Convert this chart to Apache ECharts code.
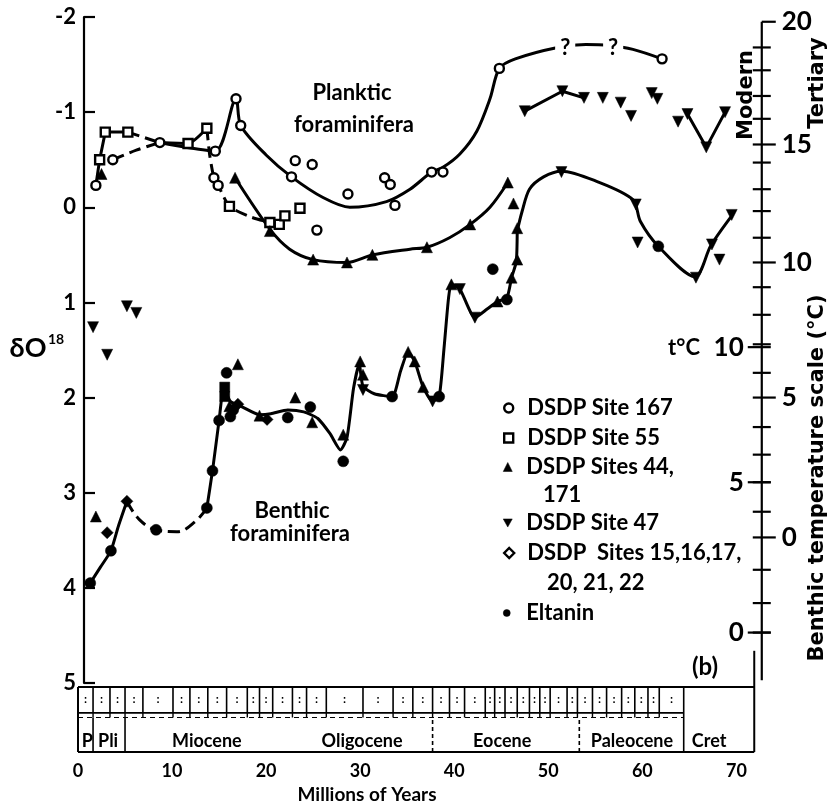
<!DOCTYPE html>
<html><head><meta charset="utf-8">
<script src="https://cdn.jsdelivr.net/npm/echarts@6/dist/echarts.min.js"></script>
<style>html,body{margin:0;padding:0;background:#fff}#c{width:829px;height:805px}</style>
</head><body><div id="c"></div>
<script>
// ---------------- DATA ----------------
const ageTicks = [0, 10, 20, 30, 40, 50, 60, 70];
const deltaTicks = [-2, -1, 0, 1, 2, 3, 4, 5];

// Planktic foraminifera points [age (My), delta O18]
const planktic167 = [[1.9,-0.23],[3.7,-0.5],[8.7,-0.68],[14.6,-0.59],[14.45,-0.31],[14.9,-0.23],[16.8,-1.14],[17.3,-0.86],[22.7,-0.32],[23.1,-0.49],[24.9,-0.45],[25.4,0.24],[28.7,-0.14],[32.6,-0.31],[33.2,-0.24],[33.7,-0.02],[37.6,-0.37],[38.8,-0.37],[44.8,-1.46],[62.1,-1.56]];
const planktic55 = [[2.3,-0.5],[2.9,-0.79],[5.3,-0.79],[11.7,-0.67],[13.7,-0.83],[16.1,-0.01],[20.4,0.16],[21.4,0.18],[22.0,0.09],[23.6,0.01]];
const planktic44 = [[2.5,-0.35],[16.7,-0.31],[20.4,0.25],[25.0,0.55],[28.6,0.58],[31.3,0.5],[37.1,0.42],[41.7,0.18],[45.7,-0.26],[46.3,-0.04]];
const planktic47 = [[47.5,-1.01],[51.5,-1.22],[53.8,-1.15],[55.8,-1.15],[57.7,-1.1],[58.8,-0.96],[61.0,-1.2],[61.6,-1.14],[63.8,-0.9],[64.8,-0.98],[66.8,-0.63],[68.8,-1.0]];
const plankticQuery = [[51.8,-1.68],[56.9,-1.68]];

// Benthic foraminifera points
const benthic55 = [[15.6,1.89],[15.6,1.99]];
const benthic44 = [[1.9,3.25],[17.0,1.65],[16.1,2.09],[19.3,2.19],[23.1,2.0],[24.9,2.26],[28.2,2.39],[30.0,1.62],[30.3,1.76],[35.1,1.52],[35.8,1.62],[36.7,1.89],[39.7,0.81],[44.6,0.99],[46.1,0.74],[46.7,0.55],[46.7,0.22]];
const benthic47 = [[1.6,1.26],[3.1,1.55],[5.2,1.04],[6.2,1.11],[30.3,1.92],[37.7,2.04],[40.6,0.86],[42.2,1.16],[51.4,-0.37],[59.3,-0.03],[59.5,0.37],[65.7,0.74],[67.4,0.39],[68.2,0.55],[69.5,0.08]];
const benthic15 = [[3.1,3.42],[5.2,3.09],[17.0,2.07],[20.1,2.23]];
const eltanin = [[1.3,3.95],[3.5,3.61],[8.3,3.39],[13.7,3.16],[14.3,2.77],[15.0,2.24],[15.8,1.74],[16.2,2.2],[16.5,2.13],[22.3,2.21],[24.7,2.1],[28.2,2.67],[33.4,1.99],[38.4,1.99],[44.1,0.65],[45.6,0.97],[61.7,0.41]];

// Drawn trend curves
const curve167 = [[8.7,-0.68],[11.5,-0.63],[14.6,-0.59],[16.8,-1.14],[17.3,-0.86],[20.0,-0.55],[22.7,-0.32],[26.1,-0.1],[28.9,0.0],[32.8,-0.06],[35.3,-0.19],[37.6,-0.37],[38.8,-0.42],[40.6,-0.56],[42.4,-0.8],[43.8,-1.14],[44.8,-1.46],[46.5,-1.56],[51.0,-1.68],[54.0,-1.71],[56.5,-1.7],[59.0,-1.66],[62.1,-1.56]];
const curve55Solid = [[1.9,-0.23],[2.3,-0.5],[2.9,-0.79],[5.3,-0.79]];
const curve55Dash = [[5.3,-0.79],[8.7,-0.68]];
const curve55Mid = [[8.7,-0.68],[11.7,-0.67],[13.7,-0.83]];
const curve55Drop = [[13.7,-0.83],[14.0,-0.55],[14.45,-0.31],[14.9,-0.23],[16.1,-0.01],[18.3,0.1],[20.4,0.16]];
const curve167Dash = [[3.7,-0.5],[6.2,-0.6],[8.7,-0.68]];
const curve44Planktic = [[16.7,-0.31],[20.4,0.23],[22.5,0.44],[25.0,0.55],[28.6,0.58],[31.3,0.5],[35.3,0.44],[37.1,0.42],[39.5,0.32],[41.7,0.18],[43.8,0.0],[45.7,-0.26]];
const curve47PlankticA = [[47.5,-1.01],[51.5,-1.22],[53.8,-1.15]];
const curve47PlankticB = [[64.8,-0.98],[66.8,-0.63],[68.8,-1.0]];
const curveBenthicA = [[1.3,3.95],[2.4,3.78],[3.5,3.61],[4.3,3.35],[5.2,3.09]];
const curveBenthicB = [[5.2,3.09],[6.5,3.28],[8.3,3.39],[10.5,3.41],[12.5,3.3],[13.7,3.16]];
const curveBenthicC = [[13.7,3.16],[14.3,2.77],[15.0,2.24],[15.5,1.9],[16.2,2.04],[17.5,2.1],[19.3,2.18],[20.5,2.17],[22.3,2.13],[24.0,2.15],[25.5,2.22],[26.8,2.38],[27.9,2.55],[28.6,2.42],[29.3,1.9],[29.9,1.65],[30.3,1.88],[31.5,1.96],[33.4,1.99],[34.3,1.72],[35.1,1.52],[35.8,1.62],[36.7,1.89],[37.7,2.04],[38.4,1.99],[38.9,1.5],[39.4,0.95],[39.7,0.81],[40.6,0.86],[42.2,1.16],[43.5,1.07],[44.6,0.99],[45.6,0.95],[46.1,0.74],[46.6,0.57],[46.7,0.25]];
const curveBenthicD = [[46.7,0.25],[47.2,0.05],[48.0,-0.19],[49.5,-0.32],[51.4,-0.38],[55.2,-0.27],[59.0,-0.08],[59.8,0.15],[61.7,0.41],[65.6,0.73],[67.3,0.4],[69.5,0.09]];

// Temperature scales (label -> equivalent delta O18)
const tertiaryLabels = [20, 15, 10, 5, 0];
const tertiaryLabelDelta = [-1.95, -0.66, 0.58, 2.0, 3.47];
const tertiaryMinorDelta = [-1.68,-1.44,-1.17,-0.93,-0.47,-0.19,0.04,0.32,0.84,1.13,1.44,1.74,2.31,2.6,2.89,3.2,3.81,4.16,4.47];
const modernLabels = [10, 5, 0];
const modernLabelDelta = [1.47, 2.89, 4.47];
const tempAxisEnd = 4.97;

// Stratigraphic box
const epochNames = ['P','Pli','Miocene','Oligocene','Eocene','Paleocene','Cret'];
const epochLabelAge = [1.0, 3.2, 13.7, 30.2, 45.1, 58.9, 67.1];
const epochBounds = [1.6, 5.0, 37.7, 53.3, 64.4];
const epochBoundDashed = [false, false, true, true, false];
const cretEnd = 71.9;
const zoneBounds = [1.6,3.4,5.0,6.9,10.1,11.9,13.8,15.8,18.0,19.3,20.7,22.8,24.3,26.4,30.3,33.5,35.6,37.7,39.5,41.1,43.3,44.3,45.4,46.7,48.0,49.1,50.2,52.0,53.1,54.7,56.2,57.8,59.2,60.6,61.8];

// ---------------- CHART ----------------
const FF = 'Lato, "DejaVu Sans", sans-serif';
const FW = '"DejaVu Sans", sans-serif';
const TEMP_AXIS_AGE = 72.7;
const chart = echarts.init(document.getElementById('c'), null, {renderer: 'canvas'});

function txt(x, y, text, size, align, extra, fam) {
  return Object.assign({
    type: 'text', x: x, y: y, z: 50,
    style: {text: text, font: 'bold ' + size + 'px ' + (fam || FF), fill: '#000',
      textAlign: align || 'center', textVerticalAlign: 'middle', align: align || 'center', verticalAlign: 'middle'}
  }, extra || {});
}

function tempAxisRender(params, api) {
  const ch = [];
  const p = d => api.coord([TEMP_AXIS_AGE, d]);
  const top = p(tertiaryLabelDelta[0]), bot = p(tempAxisEnd);
  ch.push({type: 'line', shape: {x1: top[0], y1: top[1], x2: bot[0], y2: bot[1]}, style: {stroke: '#000', lineWidth: 2.2}});
  const tick = (d, l, r) => { const q = p(d); ch.push({type: 'line', shape: {x1: q[0] - l, y1: q[1], x2: q[0] + r, y2: q[1]}, style: {stroke: '#000', lineWidth: 2.2}}); };
  tertiaryMinorDelta.forEach(d => tick(d, 9, 9));
  tertiaryLabelDelta.forEach((d, i) => {
    tick(d, i === 0 ? 0 : 9, 14);
    const q = p(d);
    ch.push({type: 'text', x: q[0] + 20, y: q[1], style: {text: String(tertiaryLabels[i]), font: 'bold 26px ' + FF, fill: '#000', textAlign: 'left', textVerticalAlign: 'middle', align: 'left', verticalAlign: 'middle'}});
  });
  modernLabelDelta.forEach((d, i) => {
    tick(d, 14, 9);
    const q = p(d);
    ch.push({type: 'text', x: q[0] - 18, y: q[1], style: {text: String(modernLabels[i]), font: 'bold 26px ' + FF, fill: '#000', textAlign: 'right', textVerticalAlign: 'middle', align: 'right', verticalAlign: 'middle'}});
  });
  return {type: 'group', children: ch};
}

function stratRender(params, api) {
  const ch = [];
  const c = (a, v) => api.coord([a, v]);
  const TOP = 2.83, MID = 1.7, TROW = 1.5;
  const lastB = epochBounds[epochBounds.length - 1];
  const line = (a1, v1, a2, v2, w, dash) => {
    const p1 = c(a1, v1), p2 = c(a2, v2);
    ch.push({type: 'line', shape: {x1: p1[0], y1: p1[1], x2: p2[0], y2: p2[1]}, style: {stroke: '#000', lineWidth: w, lineDash: dash || null}});
  };
  line(0, TOP, cretEnd, TOP, 2);
  line(0, 0, cretEnd, 0, 2);
  line(0, 0, 0, TOP, 2);
  line(cretEnd, 0, cretEnd, 4.4, 2);
  line(0, MID, lastB, MID, 1.6);
  line(0, TROW, lastB, TROW, 1, [5, 4]);
  epochBounds.forEach((b, i) => line(b, 0, b, i === epochBounds.length - 1 ? TOP : TROW, 1.6, epochBoundDashed[i] ? [4, 3] : null));
  zoneBounds.forEach(b => { line(b, MID, b, TOP, 1.6); line(b, TROW, b, MID, 1.4); });
  const cells = [0].concat(zoneBounds, [lastB]);
  for (let i = 0; i < cells.length - 1; i++) {
    const q = c((cells[i] + cells[i + 1]) / 2, 2.3);
    ch.push({type: 'text', x: q[0], y: q[1], style: {text: ':', font: 'bold 12px ' + FF, fill: '#000', textAlign: 'center', textVerticalAlign: 'middle', align: 'center', verticalAlign: 'middle'}});
  }
  epochNames.forEach((n, i) => {
    const q = c(epochLabelAge[i], 0.45);
    ch.push({type: 'text', x: q[0], y: q[1], style: {text: n, font: 'bold 18px ' + FF, fill: '#000', textAlign: 'center', textVerticalAlign: 'middle', align: 'center', verticalAlign: 'middle'}});
  });
  return {type: 'group', children: ch};
}

const lineS = (data, dashed, smooth) => ({
  type: 'line', data: data, xAxisIndex: 0, yAxisIndex: 0, symbol: 'none', smooth: smooth === undefined ? 0.3 : smooth,
  lineStyle: {color: '#000', width: 3, opacity: 1, type: dashed ? [12, 6] : 'solid'}, z: 2, silent: true
});
const openStyle = {color: '#fff', borderColor: '#000', borderWidth: 2.4, opacity: 1};
const fillStyle = {color: '#000', borderColor: '#000', borderWidth: 0.5, opacity: 1};
const scat = (name, data, symbol, size, style, rot) => ({
  name: name, type: 'scatter', data: data, xAxisIndex: 0, yAxisIndex: 0, symbol: symbol, symbolSize: size,
  symbolRotate: rot || 0, itemStyle: style, z: 4, silent: true
});

const legendEntry = (top, name, icon, style, w) => ({
  left: 503, top: top, orient: 'vertical', padding: 0, itemWidth: w || 9, itemHeight: w || 9, selectedMode: false,
  data: [{name: name, icon: icon, itemStyle: style}],
  textStyle: {fontFamily: FF, fontWeight: 'bold', fontSize: 22, color: '#000', lineHeight: 24, padding: [0, 0, 0, 9 + (9 - (w || 9))]}
});

const option = {
  backgroundColor: '#fff',
  animation: false,
  grid: [
    {left: 78, right: 55, top: 17, bottom: 122},
    {left: 78, right: 55, top: 683, height: 69}
  ],
  xAxis: [
    {type: 'value', gridIndex: 0, min: 0, max: 74, show: false},
    {type: 'value', gridIndex: 1, min: 0, max: 74, interval: 10,
      axisLine: {show: false}, axisTick: {show: false}, splitLine: {show: false},
      axisLabel: {margin: 10, color: '#000', fontFamily: FF, fontWeight: 'bold', fontSize: 18,
        formatter: v => ageTicks.indexOf(v) >= 0 ? String(v) : ''}}
  ],
  yAxis: [
    {type: 'value', gridIndex: 0, min: deltaTicks[0], max: deltaTicks[deltaTicks.length - 1], interval: 1, inverse: true, offset: -6,
      axisLine: {show: true, lineStyle: {color: '#000', width: 2.2}},
      axisTick: {show: true, inside: true, length: 11, lineStyle: {color: '#000', width: 2.2}},
      splitLine: {show: false},
      axisLabel: {margin: 8, color: '#000', fontFamily: FF, fontWeight: 'bold', fontSize: 22,
        formatter: v => deltaTicks.indexOf(v) >= 0 ? String(v) : ''}},
    {type: 'value', gridIndex: 1, min: 0, max: 3, show: false}
  ],
  legend: [
    legendEntry(396, 'DSDP Site 167', 'circle', openStyle),
    legendEntry(426, 'DSDP Site 55', 'rect', openStyle),
    legendEntry(455, 'DSDP Sites 44,', 'triangle', fillStyle),
    legendEntry(511, 'DSDP Site 47', 'path://M0,0L10,0L5,9Z', fillStyle),
    legendEntry(541, 'DSDP  Sites 15,16,17,', 'diamond', openStyle, 10),
    legendEntry(601, 'Eltanin', 'circle', fillStyle, 7)
  ],
  series: [
    {type: 'custom', xAxisIndex: 1, yAxisIndex: 1, data: [[0, 0]], renderItem: stratRender, clip: false, silent: true, z: 1},
    {type: 'custom', xAxisIndex: 0, yAxisIndex: 0, data: [[0, 0]], renderItem: tempAxisRender, clip: false, silent: true, z: 1},
    lineS(curve167, false),
    lineS(curve167Dash, true),
    lineS(curve55Solid, false, 0),
    lineS(curve55Dash, true, 0),
    lineS(curve55Mid, false, 0.2),
    lineS(curve55Drop, true, 0.2),
    lineS(curve44Planktic, false),
    lineS(curve47PlankticA, false, 0),
    lineS(curve47PlankticB, false, 0),
    lineS(curveBenthicA, false, 0.2),
    lineS(curveBenthicB, true, 0.4),
    lineS(curveBenthicC, false, 0.2),
    lineS(curveBenthicD, false, 0.3),
    {type: 'scatter', data: plankticQuery, xAxisIndex: 0, yAxisIndex: 0, symbol: 'rect', symbolSize: 1, z: 5, silent: true,
      itemStyle: {color: '#fff', opacity: 1},
      label: {show: true, position: 'inside', formatter: '?', color: '#000', fontFamily: FF, fontWeight: 'bold', fontSize: 22,
        backgroundColor: '#fff', padding: [0, 5]}},
    scat('DSDP Site 167', planktic167, 'circle', 9, openStyle),
    scat('DSDP Site 55', planktic55, 'rect', 9, openStyle),
    scat('benthic55', benthic55, 'rect', 10, fillStyle),
    scat('DSDP Sites 44,', planktic44.concat(benthic44), 'triangle', 11, fillStyle),
    scat('DSDP Site 47', planktic47.concat(benthic47), 'triangle', 11, fillStyle, 180),
    scat('DSDP  Sites 15,16,17,', benthic15, 'diamond', 12, fillStyle),
    scat('Eltanin', eltanin, 'circle', 11, fillStyle)
  ],
  graphic: [
    txt(352, 93, 'Planktic', 22),
    txt(354, 125, 'foraminifera', 22),
    txt(292, 511, 'Benthic', 22),
    txt(290, 534, 'foraminifera', 22),
    txt(28, 348, 'δO', 27),
    txt(56, 339, '18', 14),
    txt(705, 667, '(b)', 24),
    txt(700, 348, 't°C', 22, 'right'),
    txt(543, 495, '171', 22, 'left'),
    txt(547, 583, '20, 21, 22', 22, 'left'),
    txt(367, 795, 'Millions of Years', 19),
    txt(747, 95, 'Modern', 21, 'center', {rotation: Math.PI / 2}, FW),
    txt(818, 83, 'Tertiary', 21, 'center', {rotation: Math.PI / 2}, FW),
    txt(818, 478, 'Benthic temperature scale (°C)', 21, 'center', {rotation: Math.PI / 2}, FW)
  ]
};
chart.setOption(option);
</script>
</body></html>
